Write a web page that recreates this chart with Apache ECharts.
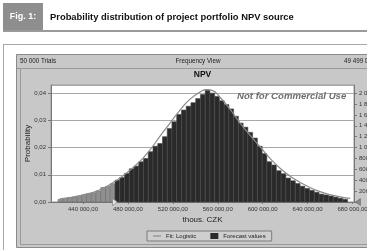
<!DOCTYPE html>
<html><head><meta charset="utf-8">
<script src="https://cdn.jsdelivr.net/npm/echarts@6/dist/echarts.min.js"></script>
<style>html,body{margin:0;padding:0;background:#fff}#c{width:367px;height:250px}</style>
</head><body><div id="c"></div>
<script>
// ---- data ----
const figLabel = 'Fig. 1:';
const figTitle = 'Probability distribution of project portfolio NPV source';
const chartTitle = 'NPV';
const trialsText = '50 000 Trials';
const viewText = 'Frequency View';
const displayedText = '49 499 Displayed';
const watermark = 'Not for Commercial Use';
const xAxisName = 'thous. CZK';
const yAxisName = 'Probability';
const xTickValues = [440000, 480000, 520000, 560000, 600000, 640000, 680000];
const binStart = 417800;
const binWidth = 4225;
const certaintyLow = 468500;
const trials = 50000;
const probabilities = [
  0.0010, 0.0013, 0.0016, 0.0018, 0.0021, 0.0025, 0.0030, 0.0034, 0.0040, 0.0053,
  0.0057, 0.0067, 0.0080, 0.0090, 0.0105, 0.0122, 0.0132, 0.0148, 0.0160, 0.0185,
  0.0205, 0.0215, 0.0240, 0.0270, 0.0295, 0.0322, 0.0338, 0.0352, 0.0365, 0.0380,
  0.0395, 0.0411, 0.0400, 0.0388, 0.0372, 0.0358, 0.0342, 0.0315, 0.0290, 0.0275,
  0.0256, 0.0235, 0.0205, 0.0178, 0.0148, 0.0136, 0.0115, 0.0104, 0.0088, 0.0078,
  0.0068, 0.0058, 0.0050, 0.0043, 0.0036, 0.0029, 0.0026, 0.0022, 0.0018, 0.0014,
  0.0010
];
const fitX = [419500, 437300, 455100, 473000, 490800, 499700, 508600, 517500, 526400, 535300,
  544200, 549600, 554900, 562000, 571000, 579900, 588800, 597700, 606600, 615500,
  624400, 633300, 642200, 651100, 660000, 669000, 677900];
const fitP = [0.0012, 0.0024, 0.0045, 0.0088, 0.0150, 0.0192, 0.0242, 0.0290, 0.0338, 0.0378,
  0.0404, 0.0413, 0.0410, 0.0385, 0.0340, 0.0290, 0.0245, 0.0203, 0.0160, 0.0124,
  0.0095, 0.0072, 0.0053, 0.0038, 0.0027, 0.0019, 0.0013];

// ---- build ----
const X_MIN = 411500, X_MAX = 681300, Y_MAX = 0.0430;
const barData = probabilities.map((p, i) => {
  const lo = binStart + i * binWidth;
  return [lo, lo + binWidth, p, lo < certaintyLow ? 1 : 0];
});
const fitData = fitX.map((x, i) => [x, fitP[i]]);
const FONT = 'Liberation Sans, Arial, sans-serif';

const chart = echarts.init(document.getElementById('c'), null, {renderer: 'canvas'});
chart.setOption({
  animation: false,
  backgroundColor: '#ffffff',
  textStyle: {fontFamily: FONT},
  graphic: [
    {type: 'rect', z: -10, shape: {x: 3, y: 3, width: 40, height: 27}, style: {fill: '#8e8e8e'}},
    {type: 'text', z: -9, style: {x: 23, y: 17, text: figLabel, fill: '#fff', font: 'bold 9px ' + FONT, textAlign: 'center', textVerticalAlign: 'middle'}},
    {type: 'text', z: -9, style: {x: 50, y: 17, text: figTitle, fill: '#111', font: 'bold 9.4px ' + FONT, textAlign: 'left', textVerticalAlign: 'middle'}},
    {type: 'rect', z: -10, shape: {x: 3, y: 30, width: 364, height: 2}, style: {fill: '#9a9a9a'}},
    {type: 'line', z: -10, shape: {x1: 3, y1: 44.5, x2: 367, y2: 44.5}, style: {stroke: '#a8a8a8', lineWidth: 1}},
    {type: 'line', z: -10, shape: {x1: 3.5, y1: 44, x2: 3.5, y2: 250}, style: {stroke: '#a8a8a8', lineWidth: 1}},
    {type: 'rect', z: -10, shape: {x: 16.5, y: 54.5, width: 360, height: 193}, style: {fill: '#c8c8c8', stroke: '#8a8a8a', lineWidth: 1}},
    {type: 'line', z: -9, shape: {x1: 17, y1: 68.5, x2: 367, y2: 68.5}, style: {stroke: '#8f8f8f', lineWidth: 1}},
    {type: 'rect', z: -9, shape: {x: 20.5, y: 68.5, width: 360, height: 176}, style: {fill: 'none', stroke: '#9a9a9a', lineWidth: 1}},
    {type: 'text', z: -8, style: {x: 20, y: 61.5, text: trialsText, fill: '#222', font: '6.3px ' + FONT, textVerticalAlign: 'middle'}},
    {type: 'text', z: -8, style: {x: 198, y: 61.5, text: viewText, fill: '#222', font: '6.3px ' + FONT, textAlign: 'center', textVerticalAlign: 'middle'}},
    {type: 'text', z: -8, style: {x: 344, y: 61.5, text: displayedText, fill: '#222', font: '6.3px ' + FONT, textVerticalAlign: 'middle'}},
    {type: 'text', z: -8, style: {x: 202.5, y: 75, text: chartTitle, fill: '#111', font: 'bold 8.5px ' + FONT, textAlign: 'center', textVerticalAlign: 'middle'}},
    {type: 'text', z: 50, style: {x: 237, y: 96, text: watermark, fill: '#6e6e6e', font: 'italic bold 9.6px ' + FONT, textVerticalAlign: 'middle'}}
  ],
  grid: {left: 51, top: 85, right: 13, bottom: 48, containLabel: false, outerBoundsMode: 'none',
    show: true, backgroundColor: '#fff', borderColor: '#9a9a9a', borderWidth: 1},
  legend: {
    left: 147, top: 231, width: 113, height: 12,
    padding: [2, 6, 2, 6], itemGap: 14, itemWidth: 8, itemHeight: 6,
    borderColor: '#7a7a7a', borderWidth: 1, backgroundColor: '#cfcfcf',
    textStyle: {fontSize: 6, color: '#222', fontFamily: FONT},
    data: [{name: 'Fit: Logistic', icon: 'path://M0,4 L10,4 L10,5 L0,5 Z'}, {name: 'Forecast values', icon: 'rect'}]
  },
  xAxis: {
    type: 'value', min: X_MIN, max: X_MAX,
    name: xAxisName, nameLocation: 'middle', nameGap: 14, nameMoveOverlap: false,
    nameTextStyle: {fontSize: 8, color: '#222', fontFamily: FONT},
    axisLine: {show: true, lineStyle: {color: '#777'}},
    axisTick: {show: true, customValues: xTickValues, length: 2, lineStyle: {color: '#777'}},
    axisLabel: {customValues: xTickValues, fontSize: 6, color: '#333', margin: 4, hideOverlap: false,
      formatter: v => Math.round(v / 1000) + ' 000,00'},
    splitLine: {show: false}
  },
  yAxis: [{
    type: 'value', min: 0, max: Y_MAX, interval: 0.01,
    name: yAxisName, nameLocation: 'middle', nameGap: 19, nameMoveOverlap: false,
    nameTextStyle: {fontSize: 8, color: '#222', fontFamily: FONT},
    axisLine: {show: true, lineStyle: {color: '#777'}},
    axisTick: {show: true, length: 3, lineStyle: {color: '#777'}},
    axisLabel: {fontSize: 6, color: '#333', margin: 5, formatter: v => v.toFixed(2).replace('.', ','), showMaxLabel: false},
    splitLine: {show: true, lineStyle: {color: '#a8a8a8', width: 1}}
  }, {
    type: 'value', min: 0, max: Y_MAX * trials, interval: 200, position: 'right',
    axisLine: {show: true, lineStyle: {color: '#777'}},
    axisTick: {show: true, length: 3, lineStyle: {color: '#777'}},
    axisLabel: {fontSize: 6, color: '#333', margin: 5, showMaxLabel: false,
      formatter: v => v === 0 ? '' : (v >= 1000 ? Math.floor(v / 1000) + ' ' + String(v % 1000).padStart(3, '0') : String(v))},
    splitLine: {show: false}
  }],
  series: [{
    name: 'Forecast values', type: 'custom', xAxisIndex: 0, yAxisIndex: 0,
    itemStyle: {color: '#2a2a2a'},
    encode: {x: [0, 1], y: 2},
    data: barData,
    renderItem: (params, api) => {
      const a = api.coord([api.value(0), api.value(2)]);
      const b = api.coord([api.value(1), 0]);
      const light = api.value(3) === 1;
      return {type: 'rect', shape: {x: a[0], y: a[1], width: b[0] - a[0], height: b[1] - a[1]},
        style: {fill: light ? '#8f8f8f' : '#2a2a2a', stroke: light ? '#6c6c6c' : '#4a4a4a', lineWidth: 0.6}};
    }
  }, {
    name: 'Fit: Logistic', type: 'line', smooth: true, symbol: 'none', z: 5,
    data: fitData,
    lineStyle: {color: '#8a8a8a', width: 1.2},
    itemStyle: {color: '#6a6a6a'}
  }, {
    name: 'grabbers', type: 'scatter', z: 6, clip: false, silent: true,
    data: [
      {value: [certaintyLow, 0], symbolRotate: -90, itemStyle: {color: '#fff', borderColor: '#777', borderWidth: 0.8}},
      {value: [X_MAX + 3500, 0], symbolRotate: 90, itemStyle: {color: '#7a7a7a', borderColor: '#555', borderWidth: 0.6}}
    ],
    symbol: 'triangle', symbolSize: [7, 5]
  }]
});
</script></body></html>
